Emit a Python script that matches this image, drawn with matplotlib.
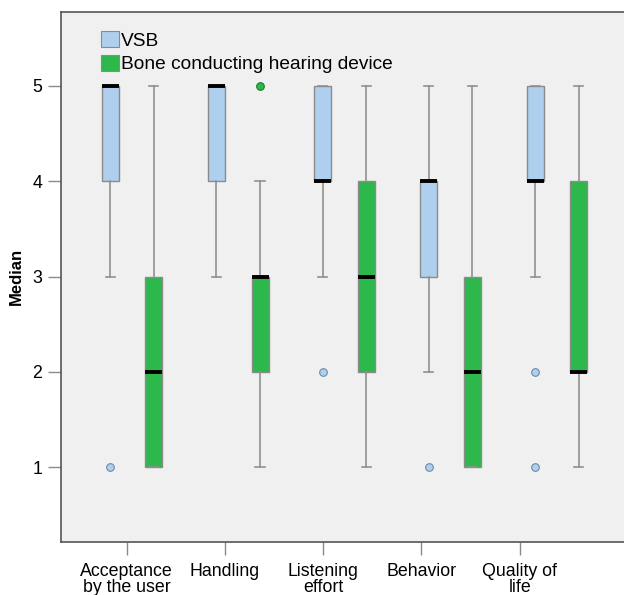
import numpy as np
import matplotlib
matplotlib.use("Agg")
import matplotlib.pyplot as plt
from matplotlib.patches import Patch

plt.rcParams['font.family'] = ['Liberation Sans', 'DejaVu Sans']

categories = ["Acceptance\nby the user", "Handling", "Listening\neffort", "Behavior", "Quality of\nlife"]
series_names = ["VSB", "Bone conducting hearing device"]

# five-number summaries per category
vsb_q1 = [4, 4, 4, 3, 4]
vsb_med = [5, 5, 4, 4, 4]
vsb_q3 = [5, 5, 5, 4, 5]
vsb_whislo = [3, 3, 3, 2, 3]
vsb_whishi = [5, 5, 5, 5, 5]
vsb_fliers = [[1], [], [2], [1], [2, 1]]

bchd_q1 = [1, 2, 2, 1, 2]
bchd_med = [2, 3, 3, 2, 2]
bchd_q3 = [3, 3, 4, 3, 4]
bchd_whislo = [1, 1, 1, 1, 1]
bchd_whishi = [5, 4, 5, 5, 5]
bchd_fliers = [[], [5], [], [], []]

yticks = [1, 2, 3, 4, 5]

vsb_color = "#aecfee"
bchd_color = "#2db84b"

fig = plt.figure(figsize=(6.24, 5.95), dpi=100)
ax = fig.add_axes([61 / 624, 53.3 / 595, (630 - 61) / 624, 530 / 595])
ax.set_facecolor("#f0f0f0")


def stats(q1, med, q3, lo, hi, fl):
    return [dict(q1=a, med=b, q3=c, whislo=d, whishi=e, fliers=f)
            for a, b, c, d, e, f in zip(q1, med, q3, lo, hi, fl)]


idx = np.arange(len(categories))
offset = 0.205
box_w = 0.16
cap_w = 0.085


def draw(st, pos, color, flier_edge):
    ax.bxp(st, positions=pos, widths=box_w, patch_artist=True,
           showfliers=True, capwidths=cap_w,
           boxprops=dict(facecolor=color, edgecolor="#8a8a8a", linewidth=1.0),
           medianprops=dict(color="black", linewidth=2.8, solid_capstyle="butt"),
           whiskerprops=dict(color="#909090", linewidth=1.2),
           capprops=dict(color="#909090", linewidth=1.2),
           flierprops=dict(marker="o", markersize=5.5, markerfacecolor=color,
                           markeredgecolor=flier_edge, markeredgewidth=0.8,
                           linestyle="none"))


draw(stats(vsb_q1, vsb_med, vsb_q3, vsb_whislo, vsb_whishi, vsb_fliers),
     idx - offset, vsb_color, "#6f8aa6")
draw(stats(bchd_q1, bchd_med, bchd_q3, bchd_whislo, bchd_whishi, bchd_fliers),
     idx + offset, bchd_color, "#1e7a33")

ax.set_xlim(-0.669, 4.689)
ax.set_ylim(0.22, 5.776)

tick_pos = idx * 0.925 - 0.05
ax.set_xticks(tick_pos)
ax.set_xticklabels(categories, fontsize=12.8, linespacing=0.97)
ax.set_yticks(yticks)
ax.set_yticklabels([str(v) for v in yticks], fontsize=12.8)
ax.tick_params(axis="both", direction="out", length=9.5, width=1.0,
               color="#8a8a8a", pad=4)
ax.tick_params(axis="x", pad=5.5)
ax.set_ylabel("Median", fontsize=12, fontweight="bold", labelpad=6)

for s in ax.spines.values():
    s.set_color("#555555")
    s.set_linewidth(1.2)

handles = [Patch(facecolor=vsb_color, edgecolor="#8a8a8a", linewidth=0.8),
           Patch(facecolor=bchd_color, edgecolor="#8a8a8a", linewidth=0.8)]
ax.legend(handles, series_names, loc="upper left", bbox_to_anchor=(0.07, 0.963),
          frameon=False, fontsize=13.8, handlelength=0.95, handleheight=0.9,
          handletextpad=0.1, labelspacing=0.25, borderaxespad=0.0,
          borderpad=0.0)

fig.savefig("out.png", dpi=100)
